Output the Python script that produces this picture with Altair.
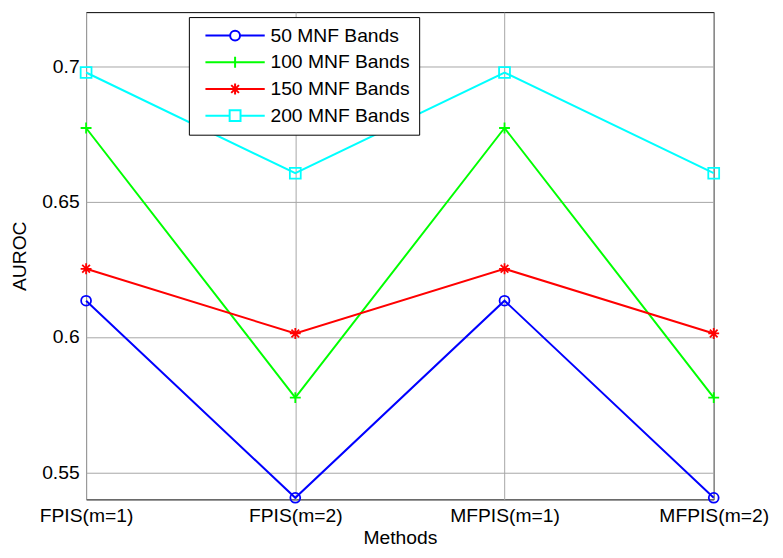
import altair as alt
import pandas as pd

# ---- data ----
methods = ["FPIS(m=1)", "FPIS(m=2)", "MFPIS(m=1)", "MFPIS(m=2)"]
series = ["50 MNF Bands", "100 MNF Bands", "150 MNF Bands", "200 MNF Bands"]
bands_50 = [0.6134, 0.5406, 0.6134, 0.5406]
bands_100 = [0.6772, 0.5776, 0.6772, 0.5776]
bands_150 = [0.6252, 0.6013, 0.6252, 0.6013]
bands_200 = [0.6977, 0.6605, 0.6977, 0.6605]
y_ticks = [0.55, 0.6, 0.65, 0.7]

# ---- styles ----
colors = ["#0000FF", "#00FF00", "#FF0000", "#00FFFF"]
plot_shapes = [
    "M-1,0A1,1 0 1,0 1,0A1,1 0 1,0 -1,0Z",
    "M-1.1,0L1.1,0M0,-1.1L0,1.1",
    "M-1.1,0L1.1,0M0,-1.1L0,1.1M-0.78,-0.78L0.78,0.78M-0.78,0.78L0.78,-0.78",
    "M-1.1,-1.1L1.1,-1.1L1.1,1.1L-1.1,1.1Z",
]
legend_shapes = [
    "M-1,0L11.5,0M16.5,0L29,0M11.5,0A2.5,2.5 0 1,0 16.5,0A2.5,2.5 0 1,0 11.5,0",
    "M-1,0L29,0M14,-2.75L14,2.75",
    "M-1,0L29,0M14,-2.75L14,2.75M12.05,-1.95L15.95,1.95M12.05,1.95L15.95,-1.95",
    "M-1,0L11.25,0M16.75,0L29,0M11.25,-2.75L16.75,-2.75L16.75,2.75L11.25,2.75Z",
]
FONT = "Liberation Sans"
FS = 19.5

rows = []
for name, vals in zip(series, [bands_50, bands_100, bands_150, bands_200]):
    for i, (m, v) in enumerate(zip(methods, vals)):
        rows.append({"Methods": m, "AUROC": v, "series": name, "idx": i})
df = pd.DataFrame(rows)

x_enc = alt.X("Methods:N", sort=methods,
              scale=alt.Scale(type="point", padding=0, domain=methods),
              axis=alt.Axis(title="Methods", labelAngle=0, grid=True,
                            labelPadding=7, titlePadding=4))
y_enc = alt.Y("AUROC:Q", scale=alt.Scale(domain=[0.54, 0.72], nice=False, zero=False),
              axis=alt.Axis(title="AUROC", values=y_ticks, format="~g", grid=True,
                            labelPadding=7, titlePadding=12))
color_scale = alt.Scale(domain=series, range=colors)

base = alt.Chart(df)

lines = base.mark_line(strokeWidth=2).encode(
    x=x_enc, y=y_enc,
    color=alt.Color("series:N", scale=color_scale, legend=None),
    order="idx:Q",
)

points = base.mark_point(filled=False, strokeWidth=1.8, size=100, opacity=1).encode(
    x=x_enc, y=y_enc,
    color=alt.Color("series:N", scale=color_scale, legend=None),
    shape=alt.Shape("series:N", scale=alt.Scale(domain=series, range=plot_shapes), legend=None),
)

legend_spec = alt.Legend(
    title=None, orient="none", legendX=104, legendY=5,
    symbolSize=16, symbolStrokeWidth=2, labelOffset=54,
    labelFont=FONT, labelFontSize=FS, labelColor="black",
    padding=9, rowPadding=6, strokeColor="black", fillColor="white",
)

legend_layer = base.transform_filter("false").mark_point(filled=False, opacity=1).encode(
    x=x_enc, y=y_enc,
    color=alt.Color("series:N", scale=color_scale, legend=legend_spec),
    shape=alt.Shape("series:N", scale=alt.Scale(domain=series, range=legend_shapes),
                    legend=legend_spec),
)

chart = alt.layer(lines, points, legend_layer).resolve_scale(
    color="independent", shape="independent"
).properties(
    width=635, height=493,
    background="white",
    autosize=alt.AutoSizeParams(type="none"),
    padding={"left": 79, "top": 1, "right": 62, "bottom": 48},
).configure_view(
    stroke="black", strokeWidth=1
).configure_axis(
    labelFont=FONT, labelFontSize=FS, labelColor="black",
    titleFont=FONT, titleFontSize=FS, titleFontWeight="normal", titleColor="black",
    gridColor="#a6a6a6", gridWidth=1, ticks=False, domain=False,
)

chart.save("out.html", embed_options={"renderer": "svg", "actions": False})
